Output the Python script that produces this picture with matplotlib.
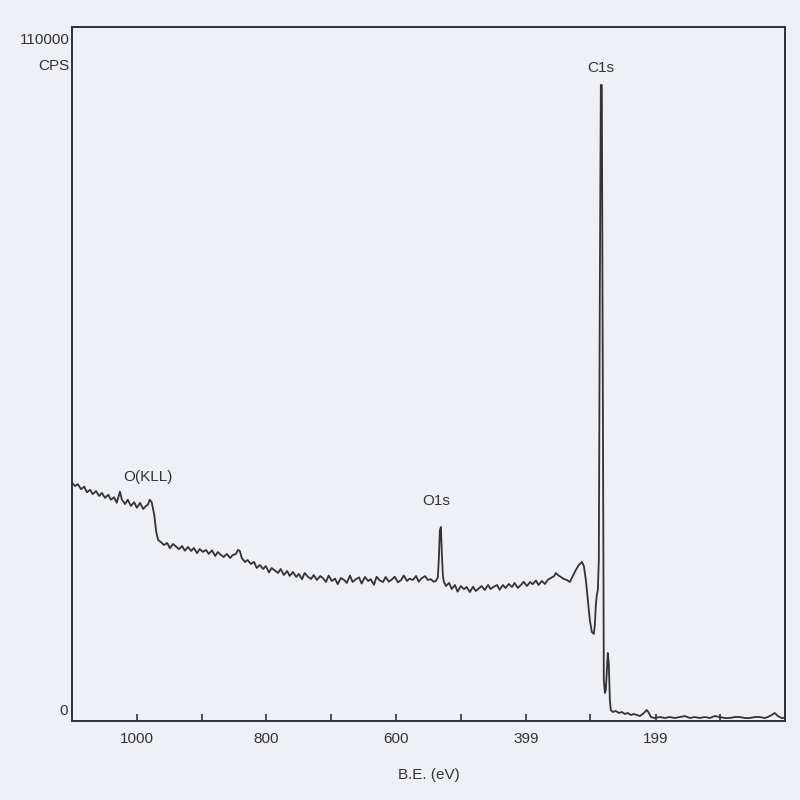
import matplotlib
matplotlib.use("Agg")
import matplotlib.pyplot as plt

plt.rcParams['font.family'] = ['Liberation Sans', 'DejaVu Sans']

# ---- Survey spectrum: binding energy (eV) / intensity (CPS) ----
# high-energy background with O(KLL) region
be_a = [1100, 1095, 1091, 1086, 1081, 1077, 1072, 1068, 1063, 1058, 1054, 1049,
        1044, 1040, 1035, 1031, 1026, 1023, 1018, 1014, 1009, 1004, 1000, 995,
        990, 986, 983, 980, 977, 973, 970, 967, 963]
cps_a = [38000, 37500, 37800, 37000, 37400, 36500, 36900, 36200, 36700, 35900, 36400, 35600,
         36100, 35300, 35700, 34800, 36600, 35300, 34600, 35300, 34300, 34900, 34000, 34800,
         33800, 34300, 34500, 35300, 34900, 32800, 30100, 28800, 28500]

# background 960-810 eV
be_b = [958, 953, 949, 944, 940, 935, 930, 926, 921, 916, 912, 907,
        903, 898, 893, 889, 884, 879, 875, 870, 866, 861, 856, 852,
        847, 844, 841, 838, 833, 829, 824, 819, 815, 810]
cps_b = [28010, 28340, 27500, 28180, 27800, 27350, 27850, 27100, 27690, 27050,
         27530, 26700, 27370, 26900, 27210, 26570, 27150, 26240, 26890, 26400,
         26080, 26570, 25920, 26400, 26570, 27210, 27050, 25920, 25280, 25600,
         24960, 25280, 24310, 24790]

# background 805-542 eV
be_c = [805, 801, 796, 792, 787, 782, 778, 773, 768, 764,
        759, 754, 750, 745, 741, 736, 731, 727, 722, 717,
        713, 708, 704, 699, 694, 690, 685, 680, 676, 671,
        667, 662, 657, 653, 648, 643, 639, 634, 630, 625,
        620, 616, 611, 606, 602, 597, 592, 588, 583, 579,
        574, 569, 565, 560, 555, 551, 546, 542]
cps_c = [24150, 24630, 23600, 24310, 23900, 23510, 24150, 23180, 23830, 23020,
         23670, 22860, 23350, 22500, 23510, 22900, 22540, 23180, 22380, 23020,
         22700, 22060, 23100, 22220, 22600, 21700, 22700, 22380, 21900, 23100,
         22060, 22500, 22800, 21800, 22860, 22220, 22500, 21600, 22900, 22300,
         22060, 22860, 22100, 22500, 22900, 22000, 22380, 23100, 22220, 22600,
         22380, 23020, 22100, 22700, 23000, 22400, 22500, 22100]

# O1s peak
be_o1s = [538.5, 535.4, 533.8, 532.3, 530.7, 529.2, 527.6, 526.1, 523, 518]
cps_o1s = [22220, 22800, 26000, 30400, 30910, 26500, 23000, 22100, 21410, 21900]

# background 514-356 eV
be_d = [514, 509, 505, 500, 495, 491, 486, 481, 477, 472,
        468, 463, 458, 454, 449, 444, 440, 435, 431, 426,
        421, 417, 412, 407, 403, 398, 393, 389, 384, 380,
        375, 370, 366, 361, 356]
cps_d = [20930, 21570, 20500, 21410, 20900, 21250, 20450, 21300, 20610, 21050,
         21400, 20770, 21570, 20930, 21300, 21570, 20800, 21570, 21090, 21740,
         21250, 21900, 21100, 21600, 22100, 21410, 22060, 21700, 22300, 21570,
         22220, 21740, 22380, 22700, 23020]

# C1s region
be_c1s = [353.3, 350.2, 345.6, 341.0, 336.4, 331.7, 327.1, 322.5, 317.8, 313.2,
          310.1, 307.0, 304.0, 300.9, 297.8, 294.7, 293.2, 291.6, 290.1, 288.5,
          287.0, 285.5, 283.9, 282.4, 280.8, 279.3, 277.7, 276.2, 274.6, 273.1,
          271.5, 270.0, 268.5]
cps_c1s = [23510, 23180, 22860, 22540, 22380, 22060, 23020, 23990, 24790, 25280,
           24630, 22380, 19160, 15940, 14010, 13690, 15130, 18350, 19960, 20770,
           25600, 67460, 102070, 102070, 51360, 6280, 4190, 4670, 7890, 10630,
           8690, 3060, 1450]

# low-energy baseline
be_e = [265.4, 260.8, 256.1, 251.5, 246.9, 242.2, 237.6, 233.0, 228.4, 223.7,
        219.1, 216.0, 212.9, 209.8, 206.8, 200.6, 192.9, 185.2, 177.5, 169.8,
        162.0, 154.3, 146.6, 138.9, 131.2, 123.5, 115.8, 108.0, 100.3, 92.6,
        84.9, 77.2, 69.4, 61.7, 54.0, 46.3, 38.6, 30.9, 26.3, 20.1,
        15.5, 10.8, 4.7, 0.5]
cps_e = [1130, 1290, 970, 1130, 810, 970, 640, 810, 640, 480,
         810, 1130, 1450, 970, 320, 160, 320, 160, 320, 160,
         320, 480, 160, 320, 160, 320, 160, 480, 320, 160,
         160, 320, 320, 160, 160, 320, 320, 160, 320, 640,
         970, 480, 160, 160]

x_ticks = [1000, 900, 800, 700, 600, 500, 399, 300, 199, 100]
x_tick_labels = ['1000', '', '800', '', '600', '', '399', '', '199', '']

peak_labels = ['O(KLL)', 'O1s', 'C1s']
peak_label_pos = [(983, 38900), (538, 35100), (284, 104800)]

be_ev = be_a + be_b + be_c + be_o1s + be_d + be_c1s + be_e
cps = cps_a + cps_b + cps_c + cps_o1s + cps_d + cps_c1s + cps_e

bg = '#eef0f5'
fig = plt.figure(figsize=(8, 8), dpi=100, facecolor=bg)
ax = fig.add_axes([0.09, 0.09875, 0.891, 0.8675], facecolor=bg)

ax.plot(be_ev, cps, color='#333333', linewidth=1.3)

ax.set_xlim(1100, 0)
ax.set_ylim(-320, 111400)

ax.set_xticks(x_ticks)
ax.set_xticklabels(x_tick_labels, fontsize=11, color='#333333')
ax.tick_params(axis='x', direction='in', length=5, width=1.2, color='#333333', pad=8)
ax.set_yticks([])
ax.set_xlabel('B.E. (eV)', fontsize=11, color='#333333', labelpad=16)

for side in ['left', 'right', 'top', 'bottom']:
    ax.spines[side].set_color('#2e2e36')
    ax.spines[side].set_linewidth(1.4)

ax.text(-0.003, 0.981, '110000', transform=ax.transAxes, ha='right', va='center',
        fontsize=11, color='#333333')
ax.text(-0.003, 0.944, 'CPS', transform=ax.transAxes, ha='right', va='center',
        fontsize=11, color='#333333')
ax.text(-0.006, 0.0144, '0', transform=ax.transAxes, ha='right', va='center',
        fontsize=11, color='#333333')

for lab, (xv, yv) in zip(peak_labels, peak_label_pos):
    ax.text(xv, yv, lab, ha='center', va='center', fontsize=11, color='#333333')

fig.savefig('out.png', dpi=100, facecolor=bg)
